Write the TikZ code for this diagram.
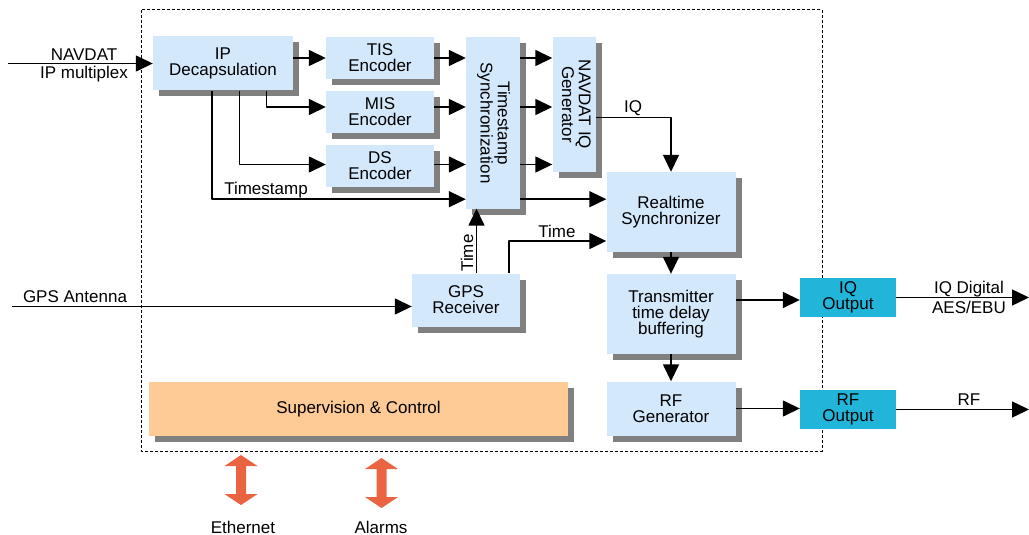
\documentclass[tikz,border=0pt]{standalone}
\usepackage{fontspec}
\setmainfont{Liberation Sans}
\usetikzlibrary{arrows.meta,shadows}
\definecolor{boxblue}{RGB}{212,232,252}
\definecolor{shadowgray}{RGB}{128,128,128}
\definecolor{outcyan}{RGB}{34,181,218}
\definecolor{supvorange}{RGB}{254,202,150}
\definecolor{portorange}{RGB}{235,100,65}
\begin{document}
\begin{tikzpicture}[x=1pt,y=-1pt,>={Triangle[length=17pt,width=16pt]},line join=bevel,
  font=\fontsize{17}{16}\selectfont,
  blk/.style={fill=boxblue,draw=none,align=center,inner sep=0pt,
    drop shadow={shadow xshift=6pt,shadow yshift=-6pt,fill=shadowgray,opacity=1}},
  outblk/.style={fill=outcyan,draw=none,align=center,inner sep=0pt},
  lbl/.style={inner sep=0pt,anchor=base},
  sig/.style={->,line width=1.5pt},
  portarrow/.pic={\fill[portorange] (0,-25) -- (16.5,-14) -- (5,-14) -- (5,14) -- (16.5,14)
    -- (0,25) -- (-16.5,14) -- (-5,14) -- (-5,-14) -- (-16.5,-14) -- cycle;}]
\useasboundingbox (0,0) rectangle (1029,535);
%%
  % Frame
  \draw [dash pattern=on 3pt off 2pt,line width=1pt] (141,10) rectangle (822,451);
  % Node: ipdec
  \node[blk,minimum width=140pt,minimum height=54pt] (ipdec) at (223,63.5) {IP\\Decapsulation};
  % Node: tis
  \node[blk,minimum width=108pt,minimum height=42pt] (tis) at (380,58) {TIS\\Encoder};
  % Node: mis
  \node[blk,minimum width=108pt,minimum height=42pt] (mis) at (380,112) {MIS\\Encoder};
  % Node: ds
  \node[blk,minimum width=108pt,minimum height=42pt] (ds) at (380,166) {DS\\Encoder};
  % Node: tsync
  \node[blk,minimum width=54pt,minimum height=171pt] (tsync) at (493,123)
    {\rotatebox{-90}{\begin{tabular}{@{}c@{}}Timestamp\\Synchronization\end{tabular}}};
  % Node: naviq
  \node[blk,minimum width=43pt,minimum height=134pt] (naviq) at (574,104.5)
    {\rotatebox{-90}{\begin{tabular}{@{}c@{}}NAVDAT IQ\\Generator\end{tabular}}};
  % Node: rtsync
  \node[blk,minimum width=129pt,minimum height=80pt] (rtsync) at (671,212) {Realtime\\Synchronizer};
  % Node: gps
  \node[blk,minimum width=108pt,minimum height=53pt] (gps) at (466,300) {GPS\\Receiver};
  % Node: txbuf
  \node[blk,minimum width=129pt,minimum height=80pt] (txbuf) at (671,314) {Transmitter\\time delay\\buffering};
  % Node: rfgen
  \node[blk,minimum width=129pt,minimum height=54pt] (rfgen) at (671,408.5) {RF\\Generator};
  % Node: iqout
  \node[outblk,minimum width=96pt,minimum height=39pt] (iqout) at (848,297.5) {IQ\\Output};
  % Node: rfout
  \node[outblk,minimum width=96pt,minimum height=39pt] (rfout) at (848,409.5) {RF\\Output};
  % Node: supv
  \node[blk,fill=supvorange,minimum width=419pt,minimum height=54pt] (supv) at (358.5,409) {Supervision \& Control};
%
  % Edge: navin -> ipdec
  \coordinate (navin) at (8,63.5);
  \draw [sig] (navin) -- (ipdec.west);
  \node[lbl] (navlbl) at (84,61) {NAVDAT};
  \node[lbl] (muxlbl) at (84,78.5) {IP multiplex};
  % Edge: ipdec -> tis
  \draw [sig] (ipdec.east |- tis) -- (tis.west);
  % Edge: ipdec -> mis
  \draw [sig] ([xshift=43.5pt]ipdec.south) |- ([yshift=5pt]mis.west);
  % Edge: ipdec -> ds
  \draw [sig] ([xshift=16.5pt]ipdec.south) |- ([yshift=1.5pt]ds.west);
  % Edge: ipdec -> tsync
  \draw [sig] ([xshift=-11pt]ipdec.south) |- ([yshift=9.5pt]tsync.south west);
  \node[lbl] (tslbl) at (266,194.5) {Timestamp};
  % Edge: encoders -> tsync
  \draw [sig] (tis.east) -- (tis.east -| tsync.west);
  \draw [sig] ([yshift=5pt]mis.east) -- ([yshift=5pt]mis.east -| tsync.west);
  \draw [sig] ([yshift=1.5pt]ds.east) -- ([yshift=1.5pt]ds.east -| tsync.west);
  % Edge: tsync -> naviq
  \draw [sig] (tis.east -| tsync.east) -- (tis.east -| naviq.west);
  \draw [sig] ([yshift=5pt]mis.east -| tsync.east) -- ([yshift=5pt]mis.east -| naviq.west);
  \draw [sig] ([yshift=1.5pt]ds.east -| tsync.east) -- ([yshift=1.5pt]ds.east -| naviq.west);
  % Edge: naviq -> rtsync
  \draw [sig] ([yshift=-13pt]naviq.east) -| (rtsync.north);
  \node[lbl] (iqlbl) at (633,113) {IQ};
  % Edge: tsync -> rtsync
  \draw [sig] ([yshift=9.5pt]tsync.south east) -- ([yshift=9.5pt]tsync.south east -| rtsync.west);
  % Edge: gps -> tsync
  \draw [sig] ([xshift=10.5pt]gps.north) -- ([xshift=10.5pt]gps.north |- tsync.south);
  \node[rotate=90,inner sep=0pt] (timevlbl) at (467,253) {Time};
  % Edge: gps -> rtsync
  \draw [sig] ([xshift=43pt]gps.north) |- ([yshift=-29pt]rtsync.west);
  \node[lbl] (timelbl) at (557,237) {Time};
  % Edge: gpsant -> gps
  \coordinate (gpsant) at (12,306.5);
  \draw [sig] (gpsant) -- (gpsant -| gps.west);
  \node[lbl] (antlbl) at (75,302.5) {GPS Antenna};
  % Edge: rtsync -> txbuf -> rfgen
  \draw [sig] (rtsync.south) -- (txbuf.north);
  \draw [sig] (txbuf.south) -- (rfgen.north);
  % Edge: txbuf -> iqout
  \draw [sig] ([yshift=14pt]txbuf.east) -- ([yshift=14pt]txbuf.east -| iqout.west);
  % Edge: rfgen -> rfout
  \draw [sig] (rfgen.east) -- (rfgen.east -| rfout.west);
  % Edge: iqout -> iqdig
  \coordinate (iqdig) at (1029,297.5);
  \draw [sig] (iqout.east) -- (iqdig);
  \node[lbl] (iqdiglbl) at (969,293) {IQ Digital};
  \node[lbl] (aeslbl) at (969,313) {AES/EBU};
  % Edge: rfout -> rfdig
  \coordinate (rfdig) at (1029,409.5);
  \draw [sig] (rfout.east) -- (rfdig);
  \node[lbl] (rflbl) at (969,405) {RF};
  % Ports
  \coordinate (ethport) at (241,480);
  \coordinate (alarmport) at (381.5,483);
  \pic at (ethport) {portarrow};
  \pic at (alarmport) {portarrow};
  \node[lbl] (ethlbl) at (243,533) {Ethernet};
  \node[lbl] (alarmlbl) at (381,533) {Alarms};
%
\end{tikzpicture}
\end{document}
